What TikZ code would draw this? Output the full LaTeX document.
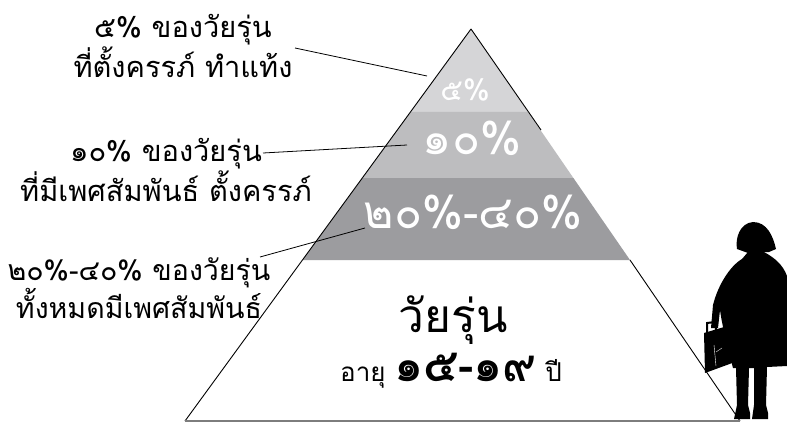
\documentclass[tikz,border=0pt]{standalone}
\usepackage{fontspec}
\newfontfamily\thai[Script=Thai]{Loma}
\definecolor{bandA}{RGB}{213,213,215}
\definecolor{bandB}{RGB}{189,189,191}
\definecolor{bandC}{RGB}{156,156,159}
\definecolor{baseln}{RGB}{125,125,125}
\begin{document}
\begin{tikzpicture}[x=1pt,y=-1pt,
  sidelbl/.style={font=\thai\fontsize{29}{38}\selectfont, align=center, inner sep=0pt, text=black},
  bandlbl/.style={font=\thai, text=white, inner sep=0pt},
  pointer/.style={draw=black, line width=0.8pt},
  edge/.style={draw=black, line width=0.9pt}]
\useasboundingbox (0,0) rectangle (787,425);
\fill[white] (0,0) rectangle (787,425);

% pyramid corners
\coordinate (apex) at (471,29);
\coordinate (bl) at (185,421);
\coordinate (br) at (740,421);
% band boundaries (left edge, right edge)
\coordinate (l1) at (410.5,112);  \coordinate (r1) at (528,112);
\coordinate (l2) at (362.5,178);  \coordinate (r2) at (573.4,178);
\coordinate (l3) at (302.7,260);  \coordinate (r3) at (630,260);

% grey bands
\fill[bandA] (apex) -- (r1) -- (l1) -- cycle;
\fill[bandB] (l1) -- (r1) -- (r2) -- (l2) -- cycle;
\fill[bandC] (l2) -- (r2) -- (r3) -- (l3) -- cycle;

% outline
\coordinate (rtop) at (541,130);
\draw[edge] (apex) -- (bl);
\draw[edge] (apex) -- (rtop);
\draw[edge] (r3) -- (br);
\draw[baseln, line width=2pt] (bl) -- (br);

% labels inside the bands
\node[bandlbl, font=\thai\fontsize{30}{30}\selectfont] (b5) at (465,90) {๕\%};
\node[bandlbl, font=\thai\fontsize{46}{46}\selectfont] (b10) at (472,138) {๑๐\%};
\node[bandlbl, font=\thai\fontsize{46}{46}\selectfont] (b2040) at (473,212) {๒๐\%-๔๐\%};

% base of the pyramid
\node[font=\thai\fontsize{46}{46}\selectfont, inner sep=0pt] (teen) at (453,320) {วัยรุ่น};
\node[inner sep=0pt, anchor=base] (age) at (451,381)
  {\thai\fontsize{26}{26}\selectfont อายุ\ {\bfseries\fontsize{46}{46}\selectfont ๑๕-๑๙}\ ปี};

% side captions
\node[sidelbl] (t1) at (183,46) {๕\% ของวัยรุ่น\\ที่ตั้งครรภ์ ทำแท้ง};
\node[sidelbl, font=\thai\fontsize{29}{40}\selectfont] (t2) at (166,170) {๑๐\% ของวัยรุ่น\\ที่มีเพศสัมพันธ์ ตั้งครรภ์};
\node[sidelbl, font=\thai\fontsize{28.5}{32}\selectfont] (t3) at (139,288) {๒๐\%-๔๐\% ของวัยรุ่น\\ทั้งหมดมีเพศสัมพันธ์};

% pointers
\coordinate (s1) at (295,48);  \coordinate (e1) at (427,76);
\coordinate (s2) at (263,153); \coordinate (e2) at (407,145);
\coordinate (s3) at (260,257); \coordinate (e3) at (365,228);
\draw[pointer] (s1) -- (e1);
\draw[pointer] (s2) -- (e2);
\draw[pointer] (s3) -- (e3);

% girl with a school bag
\fill[black] (737,249) .. controls (735,238) and (740,223) .. (753,222)
  .. controls (767,222) and (773,236) .. (776,249)
  -- (769,252) -- (748,253) -- cycle;
\fill[black] (748,252) -- (764,252) .. controls (775,258) and (783,265) .. (787,276)
  -- (787,366) -- (767,367) -- (766,405) -- (768,413) -- (768,419) -- (752,419)
  -- (754,405) -- (754,368) -- (749,368) -- (748,405) -- (750,413) -- (750,419)
  -- (734,419) -- (737,405) -- (736,368) -- (733,368)
  .. controls (727,345) and (722,325) .. (720,310)
  -- (718,328) -- (711,328) -- (713,305)
  .. controls (718,285) and (730,266) .. (742,259) -- cycle;
\fill[black] (704,333) -- (724,327) -- (735,362) -- (705,373) -- cycle;
\draw[black, line width=2pt] (707,333) -- (707,323) -- (715,322) -- (716,330);
\draw[white, line width=0.4pt] (714,345) -- (716,366) (716,352) -- (722,348);
\end{tikzpicture}
\end{document}
